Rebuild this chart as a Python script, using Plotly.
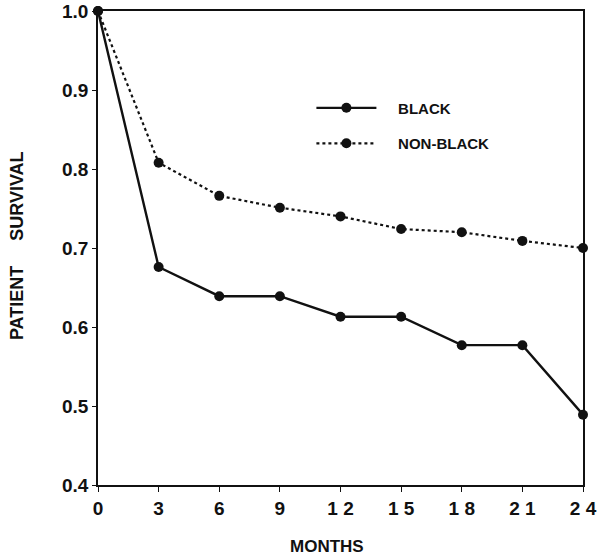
import plotly.graph_objects as go

months = [0, 3, 6, 9, 12, 15, 18, 21, 24]
black = [1.0, 0.676, 0.639, 0.639, 0.613, 0.613, 0.577, 0.577, 0.489]
non_black = [1.0, 0.808, 0.766, 0.751, 0.740, 0.724, 0.720, 0.709, 0.700]
x_tick_vals = [0, 3, 6, 9, 12, 15, 18, 21, 24]
x_tick_text = ["0", "3", "6", "9", "1 2", "1 5", "1 8", "2 1", "2 4"]
y_tick_vals = [0.4, 0.5, 0.6, 0.7, 0.8, 0.9, 1.0]
y_tick_text = ["0.4", "0.5", "0.6", "0.7", "0.8", "0.9", "1.0"]

FONT = "Liberation Sans, Arial, sans-serif"
NB = "\u00a0"

fig = go.Figure()
fig.add_trace(go.Scatter(
    x=months, y=black, name=NB * 4 + "<b>BLACK</b>", mode="lines+markers",
    line=dict(color="#111", width=2.4),
    marker=dict(color="#111", size=10),
    legendgroup="a", cliponaxis=False,
))
fig.add_trace(go.Scatter(
    x=months, y=non_black, name=NB * 4 + "<b>NON-BLACK</b>", mode="lines+markers",
    line=dict(color="#111", width=2.2, dash="dot"),
    marker=dict(color="#111", size=10),
    legendgroup="b", cliponaxis=False,
))

fig.update_layout(
    width=601, height=557,
    margin=dict(l=98, r=18, t=11, b=72, autoexpand=False),
    paper_bgcolor="white", plot_bgcolor="white",
    font=dict(family=FONT, color="#111", size=15),
    showlegend=True,
    legend=dict(
        x=0.44, y=0.83, xanchor="left", yanchor="top",
        bgcolor="rgba(0,0,0,0)", font=dict(size=15, family=FONT),
        traceorder="grouped", tracegroupgap=13, itemwidth=60,
    ),
    xaxis=dict(
        range=[0, 24], tickvals=x_tick_vals, ticktext=x_tick_text,
        ticks="outside", ticklen=5, tickwidth=1.2, tickcolor="#111",
        showline=True, linecolor="#111", linewidth=1.5, mirror=True,
        showgrid=False, zeroline=False, automargin=False,
        tickfont=dict(size=19, family=FONT, weight="bold"),
    ),
    yaxis=dict(
        range=[0.4, 1.0], tickvals=y_tick_vals, ticktext=y_tick_text,
        ticks="outside", ticklen=4, tickwidth=1.2, tickcolor="#111",
        showline=True, linecolor="#111", linewidth=1.5, mirror=True,
        showgrid=False, zeroline=False, automargin=False,
        tickfont=dict(size=19, family=FONT, weight="bold"),
    ),
    annotations=[
        dict(text="<b>MONTHS</b>", xref="paper", yref="paper",
             x=0.473, y=-0.13, xanchor="center", yanchor="middle",
             showarrow=False, font=dict(size=17, family=FONT)),
        dict(text="<b>PATIENT" + NB * 5 + "SURVIVAL</b>", xref="paper", yref="paper",
             x=-0.167, y=0.504, xanchor="center", yanchor="middle", textangle=-90,
             showarrow=False, font=dict(size=18, family=FONT)),
    ],
)

fig.write_html(
    "out.html",
    config={"displayModeBar": False},
    post_script="document.body.style.margin='0';document.body.style.padding='0';",
)
